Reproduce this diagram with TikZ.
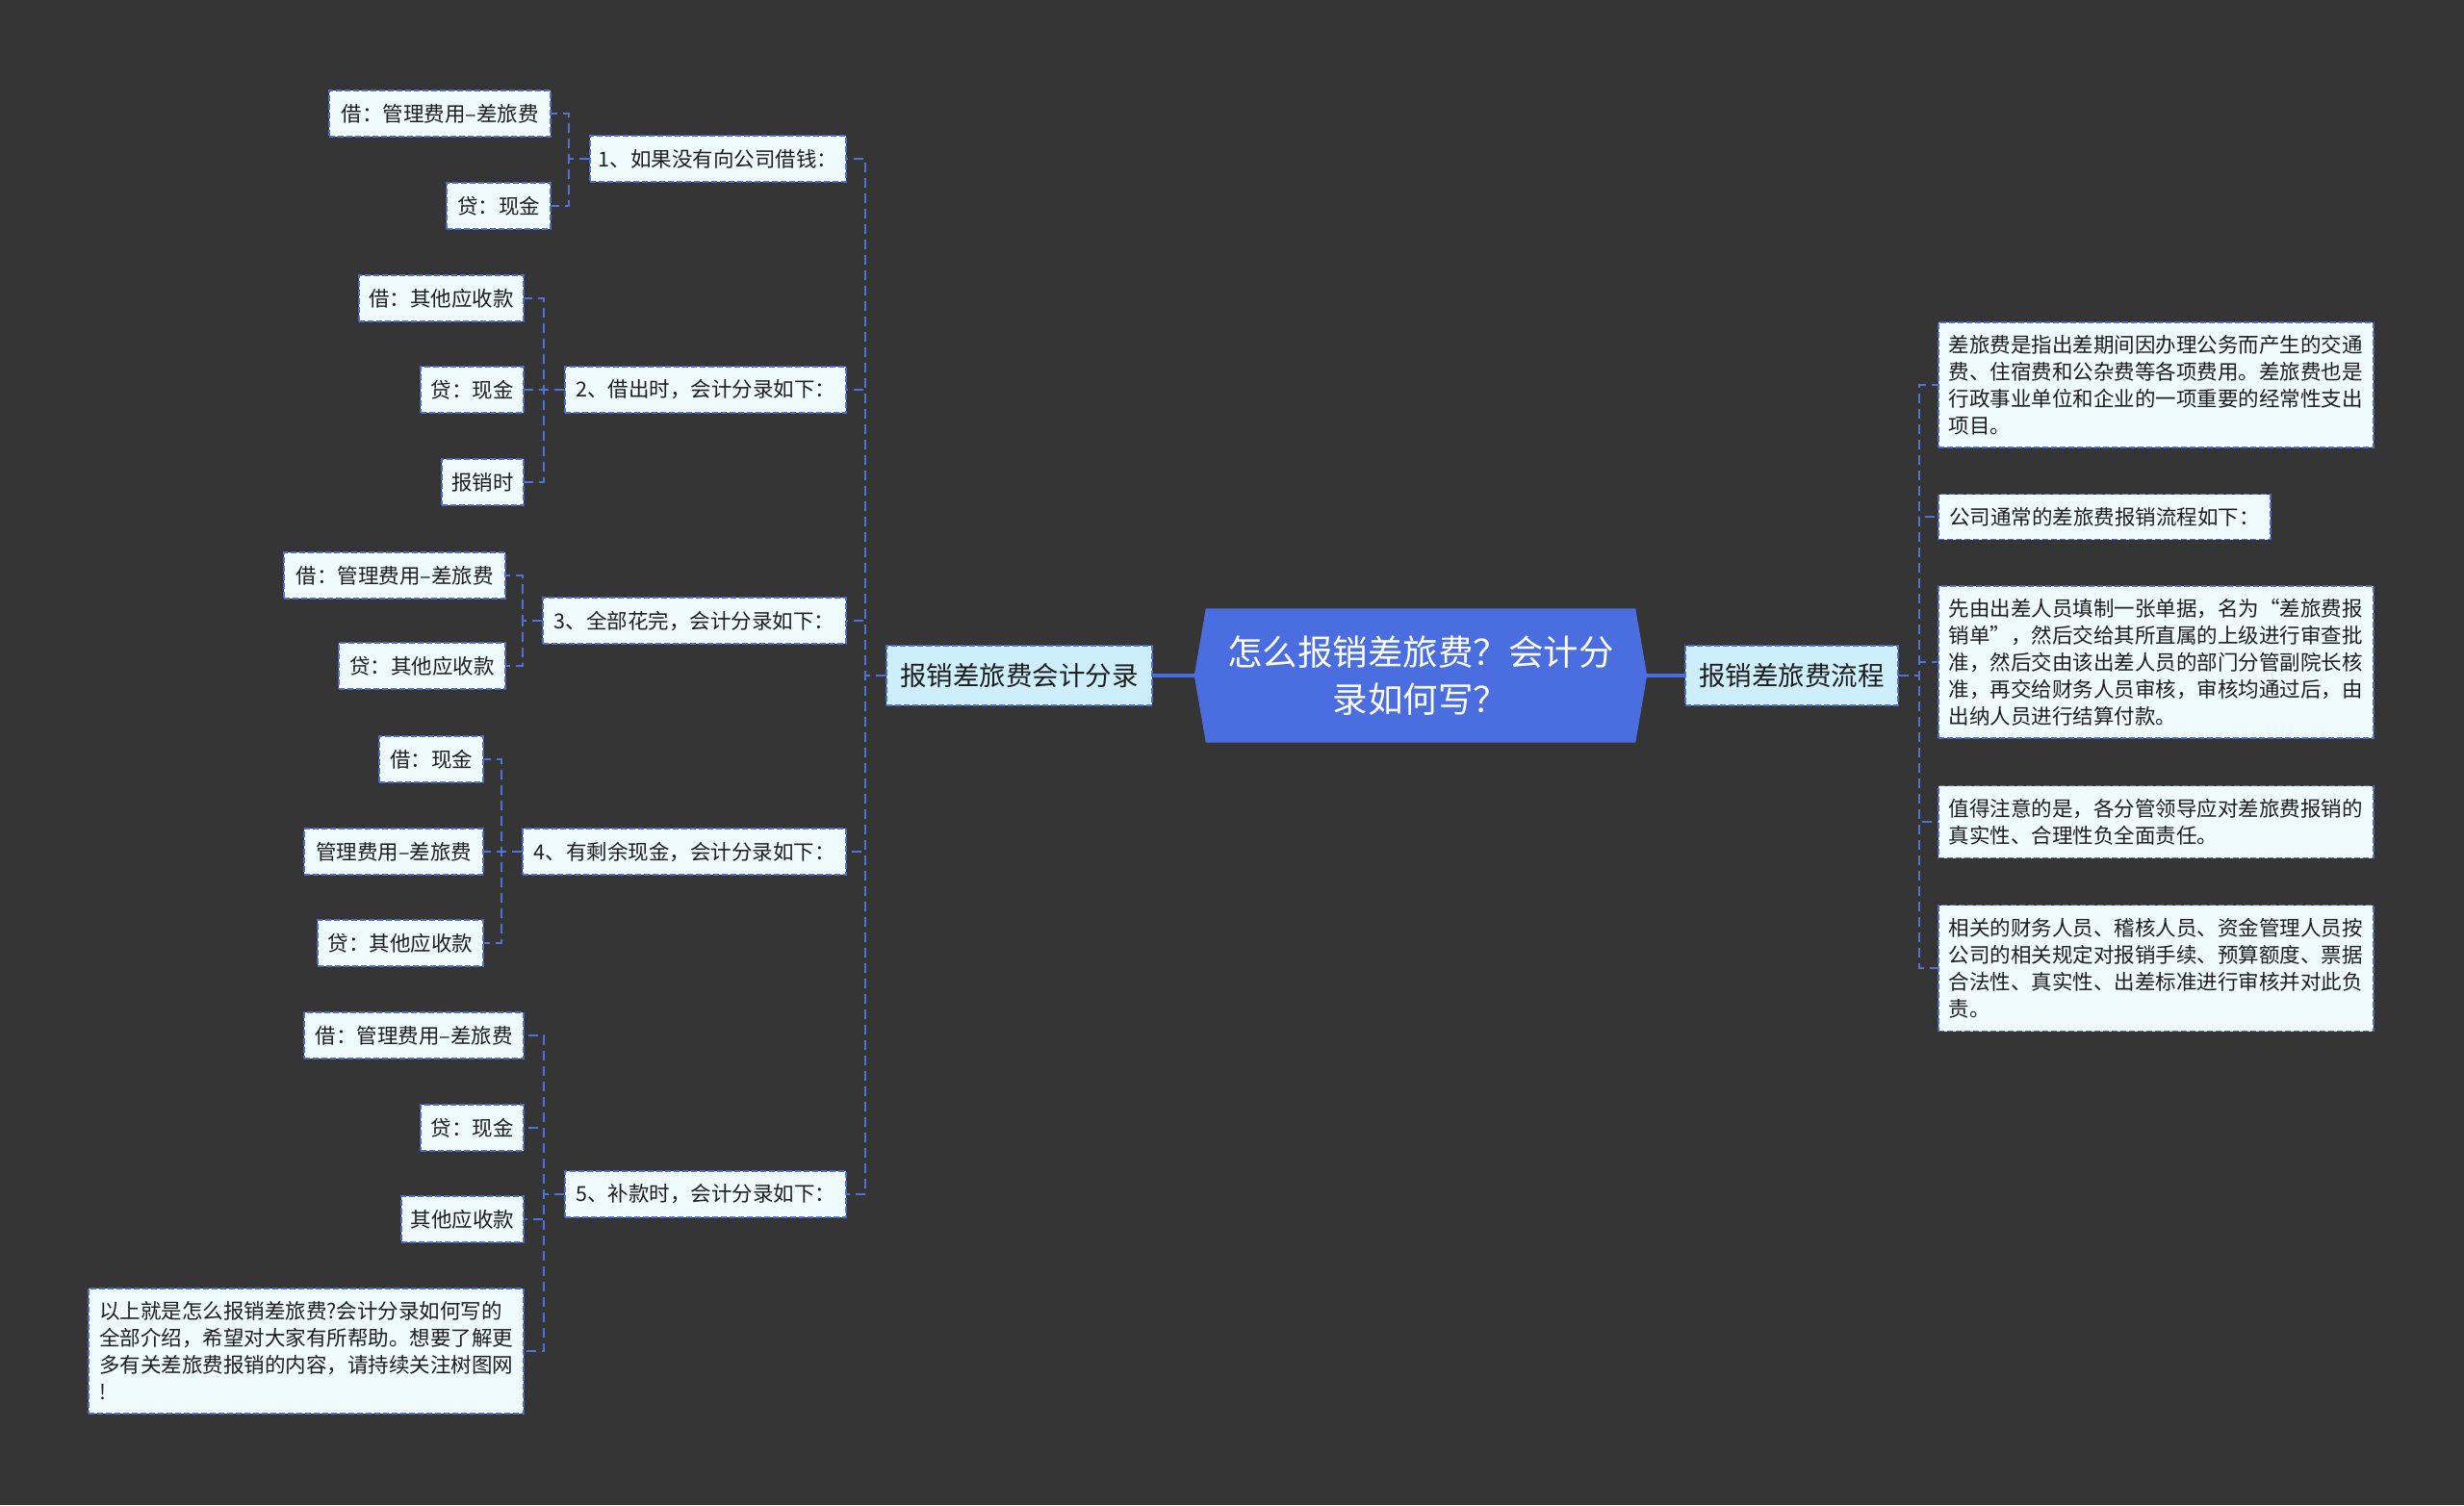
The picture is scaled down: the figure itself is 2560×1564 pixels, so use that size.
\documentclass[tikz,border=0pt]{standalone}
\usepackage{fontspec}
\setmainfont{Noto Sans CJK SC}
\usetikzlibrary{calc}
\definecolor{bgc}{HTML}{363536}
\definecolor{mainblue}{HTML}{4A6EE0}
\definecolor{edgeblue}{HTML}{4C6CD2}
\definecolor{connblue}{HTML}{5072DC}
\definecolor{lvone}{HTML}{CDEEFB}
\definecolor{leaffill}{HTML}{F0FBFF}
\definecolor{txt}{HTML}{1E1E1E}
\begin{document}
\begin{tikzpicture}[x=1pt,y=-1pt,
  basebox/.style={draw=edgeblue, dash pattern=on 6pt off 3pt, line width=1.8pt, inner sep=0pt, text=txt},
  leaf/.style={basebox, fill=leaffill, minimum height=48pt, font=\fontsize{21.5}{28}\selectfont, anchor=east},
  para/.style={basebox, fill=leaffill, font=\fontsize{21.5}{28}\selectfont, align=left, minimum width=452pt},
  lvone/.style={basebox, fill=lvone, minimum height=62pt, font=\fontsize{27.5}{34}\selectfont},
  conn/.style={draw=connblue, line width=2.2pt, dash pattern=on 10pt off 6pt},
  trunk/.style={draw=mainblue, line width=3.2pt}
]
\useasboundingbox (0,0) rectangle (2560,1564);
\fill[bgc] (0,0) rectangle (2560,1564);

% central
\node[minimum width=470pt, minimum height=139pt, inner sep=0pt] (c) at (1476,702) {};
\fill[mainblue] ($(c.north west)+(12,0)$) -- ($(c.north east)+(-12,0)$) -- (c.east)
  -- ($(c.south east)+(-12,0)$) -- ($(c.south west)+(12,0)$) -- (c.west) -- cycle;
\node[text=white, align=center, font=\fontsize{36.5}{49}\selectfont] (ct) at (c.center) {怎么报销差旅费？会计分\\录如何写？};

% level one
\node[lvone, anchor=east, minimum width=276pt] (L) at (1198,702) {报销差旅费会计分录};
\node[lvone, anchor=west, minimum width=221pt] (R) at (1750,702) {报销差旅费流程};
\draw[trunk] (c.west) -- (L.east);
\draw[trunk] (c.east) -- (R.west);

% level two (left)
\node[leaf, minimum width=266pt] (n1) at (880,165) {1、如果没有向公司借钱：};
\node[leaf, minimum width=292pt] (n2) at (880,405) {2、借出时，会计分录如下：};
\node[leaf, minimum width=315pt] (n3) at (880,645) {3、全部花完，会计分录如下：};
\node[leaf, minimum width=336pt] (n4) at (880,885) {4、有剩余现金，会计分录如下：};
\node[leaf, minimum width=292pt] (n5) at (880,1241) {5、补款时，会计分录如下：};

% leaves
\node[leaf, minimum width=230pt] (l1a) at (573,118) {借：管理费用–差旅费};
\node[leaf, minimum width=108pt] (l1b) at (573,214) {贷：现金};
\node[leaf, minimum width=171pt] (l2a) at (545,310) {借：其他应收款};
\node[leaf, minimum width=107pt] (l2b) at (545,405) {贷：现金};
\node[leaf, minimum width=85pt] (l2c) at (545,501) {报销时};
\node[leaf, minimum width=230pt] (l3a) at (526,598) {借：管理费用–差旅费};
\node[leaf, minimum width=173pt] (l3b) at (526,692) {贷：其他应收款};
\node[leaf, minimum width=108pt] (l4a) at (503,789) {借：现金};
\node[leaf, minimum width=186pt] (l4b) at (503,885) {管理费用–差旅费};
\node[leaf, minimum width=172pt] (l4c) at (503,980) {贷：其他应收款};
\node[leaf, minimum width=228pt] (l5a) at (545,1076) {借：管理费用–差旅费};
\node[leaf, minimum width=107pt] (l5b) at (545,1172) {贷：现金};
\node[leaf, minimum width=127pt] (l5c) at (545,1267) {其他应收款};
\node[para, anchor=east, minimum height=130pt] (l5d) at (545,1404) {以上就是怎么报销差旅费?会计分录如何写的\\全部介绍，希望对大家有所帮助。想要了解更\\多有关差旅费报销的内容，请持续关注树图网\\!};

% right paragraphs
\node[para, anchor=west, minimum height=130pt] (r1) at (2013,400) {差旅费是指出差期间因办理公务而产生的交通\\费、住宿费和公杂费等各项费用。差旅费也是\\行政事业单位和企业的一项重要的经常性支出\\项目。};
\node[para, anchor=west, minimum width=345pt, minimum height=47pt] (r2) at (2013,537) {公司通常的差旅费报销流程如下：};
\node[para, anchor=west, minimum height=158pt] (r3) at (2013,688) {先由出差人员填制一张单据，名为“差旅费报\\销单”，然后交给其所直属的上级进行审查批\\准，然后交由该出差人员的部门分管副院长核\\准，再交给财务人员审核，审核均通过后，由\\出纳人员进行结算付款。};
\node[para, anchor=west, minimum height=75pt] (r4) at (2013,854) {值得注意的是，各分管领导应对差旅费报销的\\真实性、合理性负全面责任。};
\node[para, anchor=west, minimum height=131pt] (r5) at (2013,1006) {相关的财务人员、稽核人员、资金管理人员按\\公司的相关规定对报销手续、预算额度、票据\\合法性、真实性、出差标准进行审核并对此负\\责。};

% connectors left main
\foreach \n in {n1,n2,n3,n4,n5} \draw[conn] (L.west) -- ++(-21,0) |- (\n.east);
% groups
\foreach \n in {l1a,l1b} \draw[conn] (n1.west) -- ++(-21,0) |- (\n.east);
\foreach \n in {l2a,l2b,l2c} \draw[conn] (n2.west) -- ++(-21,0) |- (\n.east);
\foreach \n in {l3a,l3b} \draw[conn] (n3.west) -- ++(-20,0) |- (\n.east);
\foreach \n in {l4a,l4b,l4c} \draw[conn] (n4.west) -- ++(-21,0) |- (\n.east);
\foreach \n in {l5a,l5b,l5c,l5d} \draw[conn] (n5.west) -- ++(-21,0) |- (\n.east);
% right
\foreach \n in {r1,r2,r3,r4,r5} \draw[conn] (R.east) -- ++(21,0) |- (\n.west);
\end{tikzpicture}
\end{document}
